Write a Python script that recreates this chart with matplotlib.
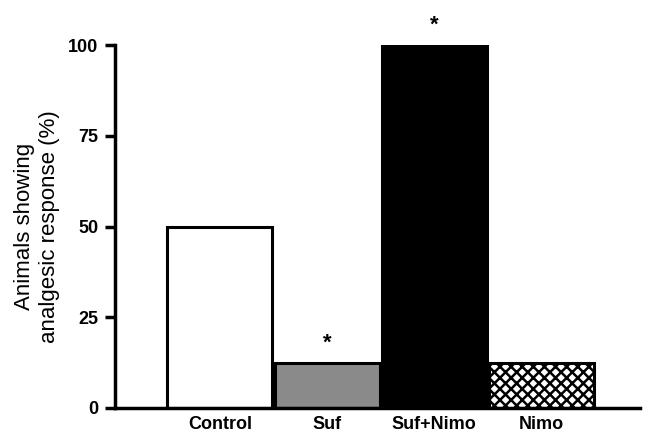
import matplotlib
matplotlib.use("Agg")
import matplotlib.pyplot as plt

# data
groups = ["Control", "Suf", "Suf+Nimo", "Nimo"]
response = [50, 12.5, 100, 12.5]
fills = ["white", "#8a8a8a", "black", "white"]
hatches = [None, None, None, "xxx"]
signif = ["", "*", "*", ""]

plt.rcParams["font.family"] = ["Liberation Sans", "DejaVu Sans"]
plt.rcParams["hatch.linewidth"] = 1.8

fig = plt.figure(figsize=(6.49, 4.34), dpi=100)
ax = fig.add_axes([0.177, 0.060, 0.809, 0.836])

x = list(range(len(groups)))
bars = ax.bar(x, response, width=0.98, color=fills, edgecolor="black", linewidth=2.2)
for b, h in zip(bars, hatches):
    if h:
        b.set_hatch(h)

# asterisks above bars
for xi, v, s in zip(x, response, signif):
    if s:
        ax.text(xi, v + 2.5, s, ha="center", va="bottom", fontsize=16, fontweight="bold")

ax.set_xlim(-0.98, 3.92)
ax.set_ylim(0, 100)
ax.set_yticks([0, 25, 50, 75, 100])
ax.set_xticks(x)
ax.set_xticklabels(groups, fontsize=13, fontweight="bold")
ax.tick_params(axis="x", length=0, pad=6)
ax.tick_params(axis="y", length=7, width=2.5, labelsize=13, pad=5)
for lab in ax.get_yticklabels():
    lab.set_fontweight("bold")

ax.spines["top"].set_visible(False)
ax.spines["right"].set_visible(False)
ax.spines["left"].set_linewidth(2.5)
ax.spines["bottom"].set_linewidth(2.5)

ax.set_ylabel("Animals showing\nanalgesic response (%)", fontsize=16, labelpad=6, linespacing=1.25)

plt.savefig("out.png", dpi=100)
